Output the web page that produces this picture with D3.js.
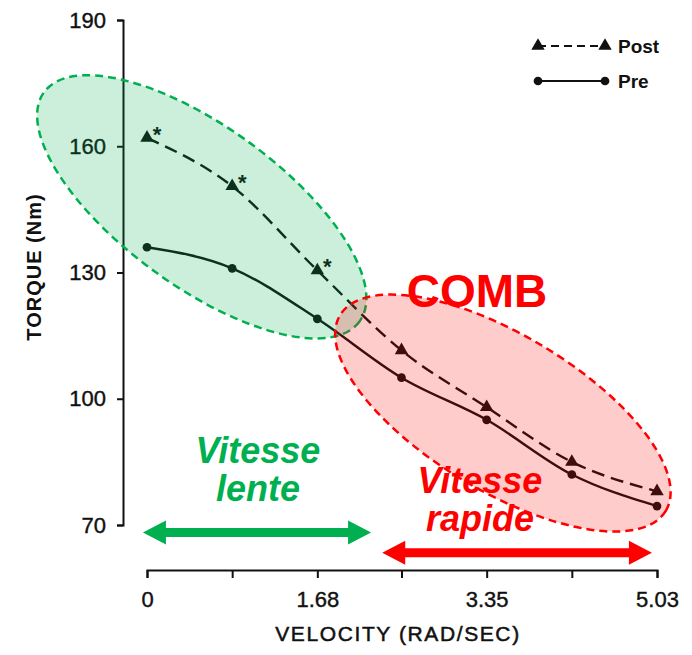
<!DOCTYPE html>
<html>
<head>
<meta charset="utf-8">
<script src="https://cdn.jsdelivr.net/npm/d3@7"></script>
<style>
  body { margin: 0; background: #fff; }
  svg { font-family: "Liberation Sans", Arial, sans-serif; }
  .axis text { font-size: 22px; fill: #111; stroke: #111; stroke-width: 0.4px; }
  .axis path, .axis line { stroke: #111; stroke-width: 2px; }
</style>
</head>
<body>
<svg id="chart" width="692" height="655"></svg>
<script>

// values
var velocities = [0, 0.84, 1.68, 2.51, 3.35, 4.19, 5.03];
var postTorque = [162, 150.5, 130.5, 111.5, 98, 85, 78];
var preTorque  = [136, 131, 119, 105, 95, 82, 74.5];
var significant = [true, true, true, false, false, false, false];
var xTickLabels = {0: "0", 1.68: "1.68", 3.35: "3.35", 5.03: "5.03"};
var yTicks = [70, 100, 130, 160, 190];

var svg = d3.select("#chart");

var x = d3.scaleLinear().domain([0, 5.03]).range([147, 657]);
var y = d3.scaleLinear().domain([70, 190]).range([525, 20]);

// axes
svg.append("g")
  .attr("class", "axis")
  .attr("transform", "translate(0,570)")
  .call(d3.axisBottom(x).tickValues(velocities).tickSize(8).tickSizeOuter(8)
    .tickFormat(d => xTickLabels[d] || ""))
  .call(g => g.selectAll("text").attr("y", 21).attr("dy", "0.71em"));

svg.append("g")
  .attr("class", "axis")
  .attr("transform", "translate(123,0)")
  .call(d3.axisLeft(y).tickValues(yTicks).tickSize(6).tickSizeOuter(6))
  .call(g => g.selectAll("text").attr("x", -17));

svg.selectAll(".axis .domain").attr("fill", "none");

svg.append("text")
  .attr("x", 398).attr("y", 641)
  .attr("text-anchor", "middle")
  .style("font-size", "21px").style("letter-spacing", "1.6px")
  .style("stroke", "#111").style("stroke-width", "0.5px")
  .attr("fill", "#111")
  .text("VELOCITY (RAD/SEC)");

svg.append("text")
  .attr("transform", "translate(41,267) rotate(-90)")
  .attr("text-anchor", "middle")
  .style("font-size", "20px").style("font-weight", "bold").style("letter-spacing", "1px")
  .attr("fill", "#111")
  .text("TORQUE (Nm)");

// data lines
var rows = velocities.map(function(v, i){
  return {v: v, post: postTorque[i], pre: preTorque[i], sig: significant[i]};
});

var postLine = d3.line().x(d => x(d.v)).y(d => y(d.post)).curve(d3.curveMonotoneX);
var preLine  = d3.line().x(d => x(d.v)).y(d => y(d.pre)).curve(d3.curveMonotoneX);

svg.append("path").datum(rows)
  .attr("d", postLine)
  .attr("fill", "none").attr("stroke", "#111").attr("stroke-width", 2.4)
  .attr("stroke-dasharray", "13,7");

svg.append("path").datum(rows)
  .attr("d", preLine)
  .attr("fill", "none").attr("stroke", "#111").attr("stroke-width", 2.4);

var tri = d3.symbol().type(d3.symbolTriangle).size(78);
var dot = d3.symbol().type(d3.symbolCircle).size(60);

svg.selectAll(".postPt").data(rows).enter().append("path")
  .attr("class", "postPt")
  .attr("d", tri)
  .attr("transform", d => "translate(" + x(d.v) + "," + y(d.post) + ")")
  .attr("fill", "#111");

svg.selectAll(".prePt").data(rows).enter().append("path")
  .attr("class", "prePt")
  .attr("d", dot)
  .attr("transform", d => "translate(" + x(d.v) + "," + y(d.pre) + ")")
  .attr("fill", "#111");

svg.selectAll(".star").data(rows.filter(d => d.sig)).enter().append("text")
  .attr("class", "star")
  .attr("x", d => x(d.v) + 10).attr("y", d => y(d.post) + 4)
  .attr("text-anchor", "middle")
  .style("font-size", "22px").style("font-weight", "bold")
  .attr("fill", "#111")
  .text("*");

// shaded zones drawn over the data, like the slide overlay
var zones = [
  {v: 0.54, t: 145.6, rx: 195, ry: 80, angle: 36, color: "#00b050"},
  {v: 3.51, t: 96.6, rx: 190, ry: 78, angle: 31, color: "#ff0000"}
];

svg.selectAll(".zone").data(zones).enter().append("ellipse")
  .attr("class", "zone")
  .attr("rx", d => d.rx).attr("ry", d => d.ry)
  .attr("transform", d => "translate(" + x(d.v) + "," + y(d.t) + ") rotate(" + d.angle + ")")
  .attr("fill", d => d.color).attr("fill-opacity", 0.2)
  .attr("stroke", d => d.color).attr("stroke-width", 2.5)
  .attr("stroke-dasharray", "8,5");

// double arrows
var arrows = [
  {from: -0.04, to: 2.21, t: 68.2, color: "#00b050"},
  {from: 2.32, to: 4.98, t: 63.4, color: "#ff0000"}
];

arrows.forEach(function(a){
  var x0 = x(a.from), x1 = x(a.to), yy = y(a.t);
  var head = 23, half = 12, shaft = 4.5;
  var pts = [
    [x0, yy], [x0 + head, yy - half], [x0 + head, yy - shaft],
    [x1 - head, yy - shaft], [x1 - head, yy - half], [x1, yy],
    [x1 - head, yy + half], [x1 - head, yy + shaft],
    [x0 + head, yy + shaft], [x0 + head, yy + half]
  ];
  svg.append("path")
    .attr("d", d3.line()(pts) + "Z")
    .attr("fill", a.color);
});

// annotation texts
svg.append("text")
  .attr("x", 477).attr("y", 307)
  .attr("text-anchor", "middle")
  .style("font-size", "46px").style("font-weight", "bold")
  .attr("fill", "#ff0000")
  .text("COMB");

var labels = [
  {lines: ["Vitesse", "lente"], x: 258, y: 463, color: "#00b050"},
  {lines: ["Vitesse", "rapide"], x: 480, y: 493, color: "#ff0000"}
];

labels.forEach(function(l){
  svg.append("text")
    .attr("text-anchor", "middle")
    .style("font-size", "36px").style("font-weight", "bold").style("font-style", "italic")
    .attr("fill", l.color)
    .selectAll("tspan").data(l.lines).enter().append("tspan")
    .attr("x", l.x).attr("y", (d, i) => l.y + i * 38)
    .text(d => d);
});

// legend
var legend = svg.append("g").attr("transform", "translate(538,46)");
var legendRows = [
  {name: "Post", sym: tri, dash: "8,5", dy: 0},
  {name: "Pre", sym: dot, dash: null, dy: 35}
];

legendRows.forEach(function(r){
  var g = legend.append("g").attr("transform", "translate(0," + r.dy + ")");
  g.append("line")
    .attr("x1", 0).attr("x2", 67)
    .attr("stroke", "#111").attr("stroke-width", 2)
    .attr("stroke-dasharray", r.dash);
  g.selectAll("path").data([0, 67]).enter().append("path")
    .attr("d", r.sym)
    .attr("transform", d => "translate(" + d + ",0)")
    .attr("fill", "#111");
  g.append("text")
    .attr("x", 80).attr("y", 7)
    .style("font-size", "19px").style("font-weight", "bold")
    .attr("fill", "#111")
    .text(r.name);
});

</script>
</body>
</html>
